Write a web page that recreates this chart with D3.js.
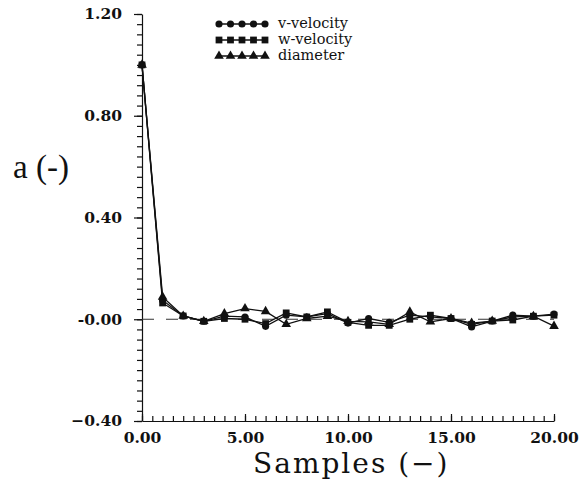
<!DOCTYPE html>
<html>
<head>
<meta charset="utf-8">
<script src="https://cdn.jsdelivr.net/npm/d3@7"></script>
<style>
  body { margin: 0; background: #fff; }
  text { fill: #111; }
</style>
</head>
<body>
<div id="chart"></div>
<script>
// sample index (x) and autocorrelation values
const samples = [0, 1, 2, 3, 4, 5, 6, 7, 8, 9, 10, 11, 12, 13, 14, 15, 16, 17, 18, 19, 20];
const vVelocity = [1.0, 0.075, 0.013, -0.008, 0.012, 0.009, -0.028, 0.016, 0.009, 0.022, -0.015,
                   0.003, -0.012, 0.016, 0.009, 0.003, -0.030, -0.007, 0.016, 0.012, 0.020];
const wVelocity = [1.0, 0.064, 0.013, -0.008, 0.003, 0.0, -0.017, 0.025, 0.009, 0.029, -0.012,
                   -0.024, -0.024, 0.0, 0.016, 0.003, -0.020, -0.007, -0.003, 0.012, 0.016];
const diameter = [1.0, 0.088, 0.013, -0.008, 0.022, 0.042, 0.031, -0.020, 0.003, 0.012, -0.008,
                  -0.010, -0.020, 0.029, -0.010, 0.003, -0.015, -0.007, 0.009, 0.012, -0.027];

const seriesNames = ['v-velocity', 'w-velocity', 'diameter'];
const xTicks = [0, 5, 10, 15, 20];
const xTickLabels = ['0.00', '5.00', '10.00', '15.00', '20.00'];
const yTicks = [-0.4, 0, 0.4, 0.8, 1.2];
const yTickLabels = ['\u22120.40', '-0.00', '0.40', '0.80', '1.20'];

const width = 580;
const height = 481;

const svg = d3.select('#chart')
    .append('svg')
        .attr('width', width)
        .attr('height', height);

const x = d3.scaleLinear()
    .domain([0, 20])
    .range([142, 554]);

const y = d3.scaleLinear()
    .domain([-0.4, 1.2])
    .range([421, 14]);

const tickFont = g => g
    .attr('font-family', '"DejaVu Serif", serif')
    .attr('font-weight', 'bold')
    .attr('font-size', 15.5);

// minor ticks
svg.append('g')
    .attr('transform', `translate(${x(0)}, 0)`)
    .call(d3.axisLeft(y).tickValues(d3.range(-0.4, 1.2001, 0.04)).tickSize(5).tickFormat(''))
    .call(g => g.select('.domain').remove());
svg.append('g')
    .attr('transform', `translate(0, ${y(-0.4)})`)
    .call(d3.axisBottom(x).tickValues(d3.range(0, 20.001, 0.5)).tickSize(-5).tickFormat(''))
    .call(g => g.select('.domain').remove());

// major ticks and labels
svg.append('g')
    .attr('transform', `translate(${x(0)}, 0)`)
    .call(d3.axisLeft(y).tickValues(yTicks).tickSize(8).tickSizeOuter(0).tickPadding(12)
        .tickFormat((d, i) => yTickLabels[i]))
    .call(tickFont);
svg.append('g')
    .attr('transform', `translate(0, ${y(-0.4)})`)
    .call(d3.axisBottom(x).tickValues(xTicks).tickSize(-7).tickSizeOuter(0).tickPadding(11)
        .tickFormat((d, i) => xTickLabels[i]))
    .call(tickFont);

svg.selectAll('.domain, .tick line')
    .attr('stroke', '#111')
    .attr('stroke-width', 1.2);

// dashed zero line
svg.append('line')
    .attr('x1', x(0)).attr('x2', x(20))
    .attr('y1', y(0)).attr('y2', y(0))
    .attr('stroke', '#333')
    .attr('stroke-width', 1)
    .attr('stroke-dasharray', '12,12');

// series
const series = [
    { name: seriesNames[0], values: vVelocity, symbol: d3.symbolCircle, size: 40 },
    { name: seriesNames[1], values: wVelocity, symbol: d3.symbolSquare, size: 46 },
    { name: seriesNames[2], values: diameter, symbol: d3.symbolTriangle, size: 40 }
];

const line = d3.line()
    .x((d, i) => x(samples[i]))
    .y(d => y(d));

series.forEach(s => {
    svg.append('path')
        .datum(s.values)
        .attr('fill', 'none')
        .attr('stroke', '#111')
        .attr('stroke-width', 1.3)
        .attr('d', line);
    svg.selectAll(null)
        .data(s.values)
        .enter()
        .append('path')
            .attr('transform', (d, i) => `translate(${x(samples[i])}, ${y(d)})`)
            .attr('d', d3.symbol().type(s.symbol).size(s.size))
            .attr('fill', '#111');
});

// legend
const legend = svg.append('g')
    .attr('transform', 'translate(219, 24)');
series.forEach((s, k) => {
    const row = legend.append('g').attr('transform', `translate(0, ${k * 16})`);
    row.append('line')
        .attr('x1', 0).attr('x2', 46)
        .attr('stroke', '#111')
        .attr('stroke-width', 1.3);
    row.selectAll(null)
        .data([0, 1, 2, 3, 4])
        .enter()
        .append('path')
            .attr('transform', d => `translate(${d * 11.5}, 0)`)
            .attr('d', d3.symbol().type(s.symbol).size(s.size))
            .attr('fill', '#111');
    row.append('text')
        .attr('x', 59)
        .attr('dy', '0.3em')
        .attr('font-family', '"DejaVu Serif", serif')
        .attr('font-size', 14.5)
        .text(s.name);
});

// axis titles
svg.append('text')
    .attr('x', 13)
    .attr('y', 178)
    .attr('font-family', '"Liberation Serif", serif')
    .attr('font-size', 33)
    .text('a (-)');

svg.append('text')
    .attr('x', 253)
    .attr('y', 473)
    .attr('font-family', '"DejaVu Serif", serif')
    .attr('font-size', 28)
    .attr('letter-spacing', 2)
    .text('Samples  (\u2212)');
</script>
</body>
</html>
